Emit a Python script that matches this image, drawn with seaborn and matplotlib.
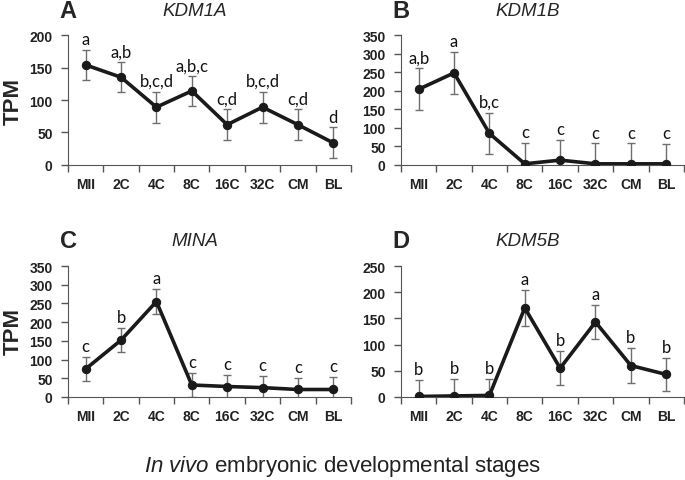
import seaborn as sns
import matplotlib.pyplot as plt
import pandas as pd
import numpy as np

# Stages and per-gene mean TPM / SD
stages = ['MII', '2C', '4C', '8C', '16C', '32C', 'CM', 'BL']

kdm1a_mean = [154, 135, 89, 114, 62, 89, 62, 34]
kdm1a_sd = [23, 23, 24, 23, 24, 24, 24, 24]
kdm1a_sig = ['a', 'a,b', 'b,c,d', 'a,b,c', 'c,d', 'b,c,d', 'c,d', 'd']

kdm1b_mean = [204, 248, 85, 3, 13, 3, 3, 3]
kdm1b_sd = [56, 56, 56, 56, 55, 55, 55, 53]
kdm1b_sig = ['a,b', 'a', 'b,c', 'c', 'c', 'c', 'c', 'c']

mina_mean = [75, 152, 255, 32, 28, 25, 20, 20]
mina_sd = [33, 33, 33, 33, 32, 32, 32, 33]
mina_sig = ['c', 'b', 'a', 'c', 'c', 'c', 'c', 'c']

kdm5b_mean = [1, 2, 3, 170, 55, 143, 60, 43]
kdm5b_sd = [32, 32, 32, 34, 33, 33, 33, 32]
kdm5b_sig = ['b', 'b', 'b', 'a', 'b', 'a', 'b', 'b']

sns.set_style("ticks")
plt.rcParams['mathtext.fontset'] = 'custom'
plt.rcParams['mathtext.it'] = 'Liberation Sans:italic'
plt.rcParams['mathtext.rm'] = 'Liberation Sans'
plt.rcParams['font.family'] = ['Liberation Sans', 'DejaVu Sans']

fig = plt.figure(figsize=(6.85, 4.81), dpi=100)

panels = [
    # letter, gene, mean, sd, sig, ymax, axes rect
    ('A', 'KDM1A', kdm1a_mean, kdm1a_sd, kdm1a_sig, 200, [0.0993, 0.655, 0.413, 0.270]),
    ('B', 'KDM1B', kdm1b_mean, kdm1b_sd, kdm1b_sig, 350, [0.5854, 0.655, 0.413, 0.270]),
    ('C', 'MINA', mina_mean, mina_sd, mina_sig, 350, [0.0993, 0.1726, 0.413, 0.2723]),
    ('D', 'KDM5B', kdm5b_mean, kdm5b_sd, kdm5b_sig, 250, [0.5854, 0.1726, 0.413, 0.2723]),
]

x = np.arange(len(stages))
for letter, gene, mean, sd, sig, ymax, rect in panels:
    ax = fig.add_axes(rect)
    df = pd.DataFrame({'pos': x, 'tpm': mean})
    ax.errorbar(x, mean, yerr=sd, fmt='none', ecolor='#6e6e6e',
                elinewidth=1, capsize=3, capthick=1, zorder=1)
    sns.lineplot(data=df, x='pos', y='tpm', ax=ax, color='#1a1a1a',
                 linewidth=2.6, marker='o', markersize=6,
                 markeredgecolor='#1a1a1a', zorder=3)
    for xi, m, s, lab in zip(x, mean, sd, sig):
        ax.annotate(lab, (xi, m + s), xytext=(0, 2), textcoords='offset points',
                    ha='center', va='bottom', fontsize=12,
                    family=['Lato', 'DejaVu Sans'], color='#111111')
    ax.set_xlim(-0.5, len(stages) - 0.5)
    ax.set_ylim(0, ymax)
    ax.set_yticks(np.arange(0, ymax + 1, 50))
    ax.set_xticks(x)
    ax.set_xticklabels(stages)
    ax.set_xticks(np.arange(-0.5, len(stages)), minor=True)
    ax.tick_params(axis='x', which='major', length=0, pad=9)
    ax.tick_params(axis='x', which='minor', length=5, width=1, color='#555555')
    ax.tick_params(axis='y', length=5, width=1, color='#555555', pad=6)
    for t in ax.get_xticklabels() + ax.get_yticklabels():
        t.set_fontweight('bold')
        t.set_fontsize(10)
        t.set_color('#222222')
    ax.set_xlabel('')
    ax.set_ylabel('')
    sns.despine(ax=ax)
    ax.spines['left'].set_color('#555555')
    ax.spines['bottom'].set_color('#555555')

    # panel letter and gene title above axes
    ax.text(-0.03, 1.0 + 25 / 130, letter,
            transform=ax.transAxes, fontsize=17, fontweight='bold',
            ha='left', va='center')
    ax.text(0.447, 1.0 + 25 / 130, gene, transform=ax.transAxes,
            fontsize=13.5, style='italic', ha='center', va='center')

fig.text(0.02, 0.79, 'TPM', rotation=90, fontsize=16, fontweight='bold',
         ha='center', va='center')
fig.text(0.02, 0.31, 'TPM', rotation=90, fontsize=16, fontweight='bold',
         ha='center', va='center')
fig.text(0.5, 0.03, r'$\mathit{In\ vivo}$ embryonic developmental stages',
         fontsize=16, ha='center', va='center', color='#222222')

plt.savefig('out.png', dpi=100, facecolor='white')
